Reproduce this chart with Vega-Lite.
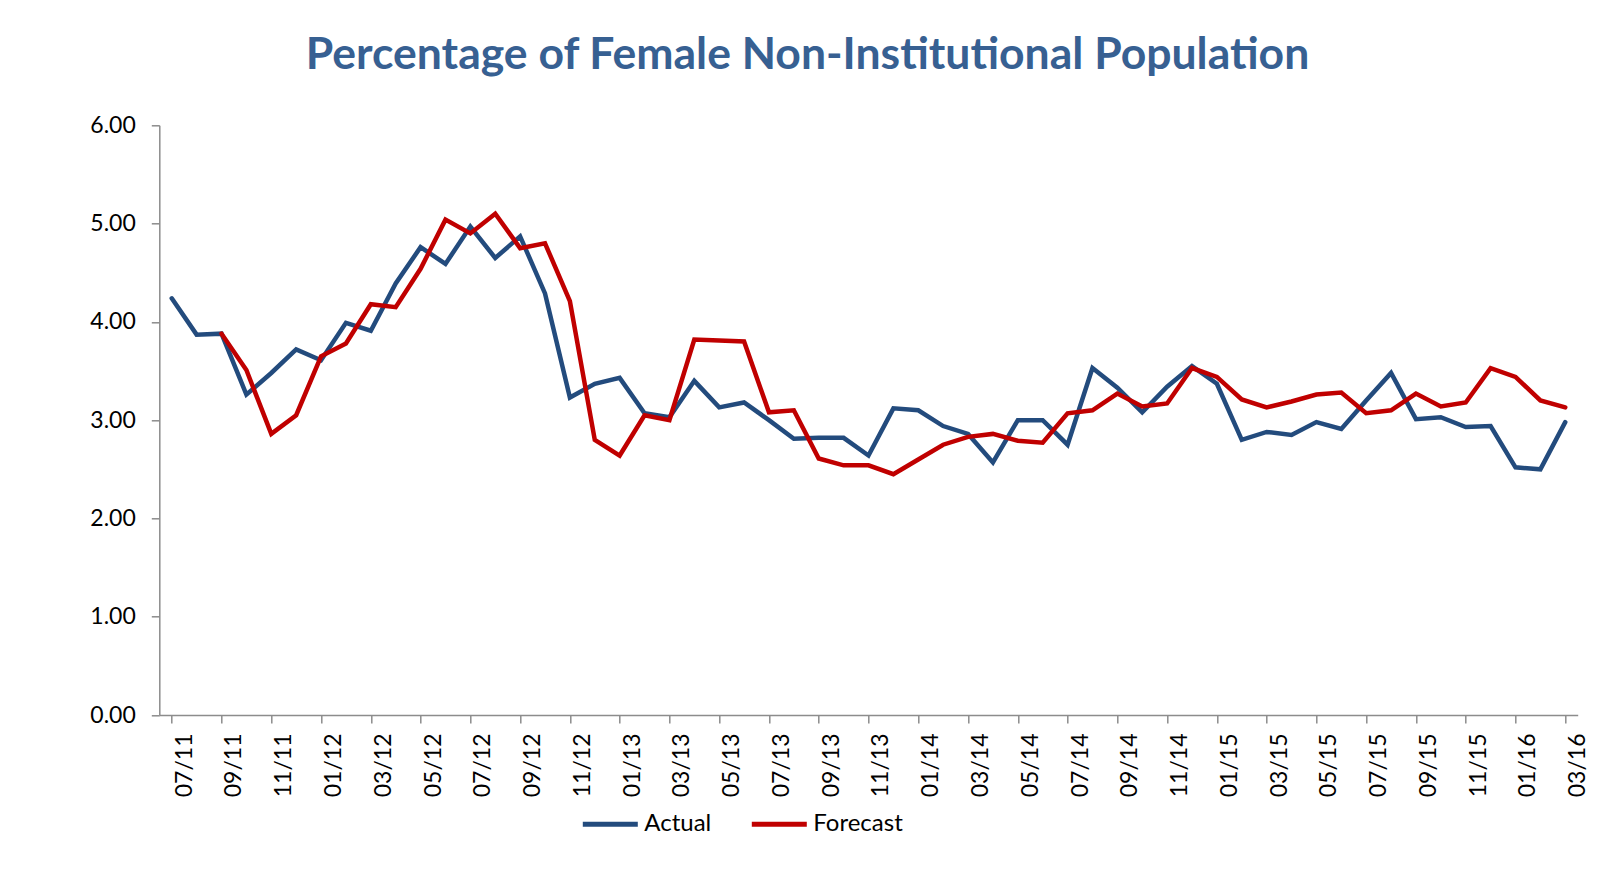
{
  "$schema": "https://vega.github.io/schema/vega-lite/v6.json",
  "autosize": "none",
  "width": 1418.4,
  "height": 589.7,
  "padding": {"left": 159.3, "top": 125.3, "right": 19.3, "bottom": 163},
  "background": "white",
  "config": {
    "view": {"stroke": null},
    "font": "Lato"
  },
  "title": {
    "text": "Percentage of Female Non-Institutional Population",
    "font": "Lato",
    "fontSize": 44.5,
    "fontWeight": "bold",
    "color": "#376092",
    "anchor": "middle",
    "frame": "group",
    "baseline": "alphabetic",
    "dx": -61,
    "offset": 1
  },
  "data": {
    "values": [
      {"month": "07/11", "Actual": 4.24, "Forecast": null},
      {"month": "08/11", "Actual": 3.87, "Forecast": null},
      {"month": "09/11", "Actual": 3.88, "Forecast": 3.88},
      {"month": "10/11", "Actual": 3.26, "Forecast": 3.51},
      {"month": "11/11", "Actual": 3.48, "Forecast": 2.86},
      {"month": "12/11", "Actual": 3.72, "Forecast": 3.05},
      {"month": "01/12", "Actual": 3.61, "Forecast": 3.65},
      {"month": "02/12", "Actual": 3.99, "Forecast": 3.78},
      {"month": "03/12", "Actual": 3.91, "Forecast": 4.18},
      {"month": "04/12", "Actual": 4.39, "Forecast": 4.15},
      {"month": "05/12", "Actual": 4.76, "Forecast": 4.54},
      {"month": "06/12", "Actual": 4.59, "Forecast": 5.04},
      {"month": "07/12", "Actual": 4.97, "Forecast": 4.90},
      {"month": "08/12", "Actual": 4.65, "Forecast": 5.10},
      {"month": "09/12", "Actual": 4.87, "Forecast": 4.75},
      {"month": "10/12", "Actual": 4.29, "Forecast": 4.80},
      {"month": "11/12", "Actual": 3.23, "Forecast": 4.21},
      {"month": "12/12", "Actual": 3.37, "Forecast": 2.80},
      {"month": "01/13", "Actual": 3.43, "Forecast": 2.64},
      {"month": "02/13", "Actual": 3.07, "Forecast": 3.05},
      {"month": "03/13", "Actual": 3.03, "Forecast": 3.00},
      {"month": "04/13", "Actual": 3.40, "Forecast": 3.82},
      {"month": "05/13", "Actual": 3.13, "Forecast": 3.81},
      {"month": "06/13", "Actual": 3.18, "Forecast": 3.80},
      {"month": "07/13", "Actual": 3.00, "Forecast": 3.08},
      {"month": "08/13", "Actual": 2.81, "Forecast": 3.10},
      {"month": "09/13", "Actual": 2.82, "Forecast": 2.61},
      {"month": "10/13", "Actual": 2.82, "Forecast": 2.54},
      {"month": "11/13", "Actual": 2.64, "Forecast": 2.54},
      {"month": "12/13", "Actual": 3.12, "Forecast": 2.45},
      {"month": "01/14", "Actual": 3.10, "Forecast": 2.60},
      {"month": "02/14", "Actual": 2.94, "Forecast": 2.75},
      {"month": "03/14", "Actual": 2.86, "Forecast": 2.83},
      {"month": "04/14", "Actual": 2.57, "Forecast": 2.86},
      {"month": "05/14", "Actual": 3.00, "Forecast": 2.79},
      {"month": "06/14", "Actual": 3.00, "Forecast": 2.77},
      {"month": "07/14", "Actual": 2.75, "Forecast": 3.07},
      {"month": "08/14", "Actual": 3.53, "Forecast": 3.10},
      {"month": "09/14", "Actual": 3.33, "Forecast": 3.27},
      {"month": "10/14", "Actual": 3.08, "Forecast": 3.14},
      {"month": "11/14", "Actual": 3.34, "Forecast": 3.17},
      {"month": "12/14", "Actual": 3.55, "Forecast": 3.53},
      {"month": "01/15", "Actual": 3.37, "Forecast": 3.44},
      {"month": "02/15", "Actual": 2.80, "Forecast": 3.21},
      {"month": "03/15", "Actual": 2.88, "Forecast": 3.13},
      {"month": "04/15", "Actual": 2.85, "Forecast": 3.19},
      {"month": "05/15", "Actual": 2.98, "Forecast": 3.26},
      {"month": "06/15", "Actual": 2.91, "Forecast": 3.28},
      {"month": "07/15", "Actual": 3.20, "Forecast": 3.07},
      {"month": "08/15", "Actual": 3.48, "Forecast": 3.10},
      {"month": "09/15", "Actual": 3.01, "Forecast": 3.27},
      {"month": "10/15", "Actual": 3.03, "Forecast": 3.14},
      {"month": "11/15", "Actual": 2.93, "Forecast": 3.18},
      {"month": "12/15", "Actual": 2.94, "Forecast": 3.53},
      {"month": "01/16", "Actual": 2.52, "Forecast": 3.44},
      {"month": "02/16", "Actual": 2.50, "Forecast": 3.20},
      {"month": "03/16", "Actual": 2.98, "Forecast": 3.13}
    ]
  },
  "transform": [
    {"fold": ["Actual", "Forecast"], "as": ["series", "value"]},
    {"filter": "datum.value != null"}
  ],
  "mark": {"type": "line", "strokeWidth": 4.5, "strokeJoin": "miter", "strokeCap": "round"},
  "encoding": {
    "x": {
      "field": "month",
      "type": "ordinal",
      "sort": null,
      "scale": {"paddingInner": 0, "paddingOuter": 0},
      "axis": {
        "title": null,
        "values": ["07/11","09/11","11/11","01/12","03/12","05/12","07/12","09/12","11/12","01/13","03/13","05/13","07/13","09/13","11/13","01/14","03/14","05/14","07/14","09/14","11/14","01/15","03/15","05/15","07/15","09/15","11/15","01/16","03/16"],
        "bandPosition": 0,
        "labelOffset": 12.44,
        "labelAngle": -90,
        "labelAlign": "right",
        "labelBaseline": "middle",
        "labelFont": "Lato",
        "labelFontSize": 23,
        "labelColor": "black",
        "labelPadding": 10,
        "tickSize": 8,
        "tickColor": "#8c8c8c",
        "tickWidth": 1.5,
        "domainColor": "#8c8c8c",
        "domainWidth": 1.5,
        "grid": false
      }
    },
    "y": {
      "field": "value",
      "type": "quantitative",
      "scale": {"domain": [0, 6], "nice": false, "zero": true},
      "axis": {
        "title": null,
        "values": [0, 1, 2, 3, 4, 5, 6],
        "format": ".2f",
        "labelFont": "Lato",
        "labelFontSize": 23,
        "labelColor": "black",
        "labelPadding": 16,
        "tickSize": 8,
        "tickColor": "#8c8c8c",
        "tickWidth": 1.5,
        "domainColor": "#8c8c8c",
        "domainWidth": 1.5,
        "grid": false
      }
    },
    "color": {
      "field": "series",
      "type": "nominal",
      "scale": {"domain": ["Actual", "Forecast"], "range": ["#234B7D", "#C00000"]},
      "legend": {
        "title": null,
        "orient": "none",
        "direction": "horizontal",
        "legendX": 421,
        "legendY": 669,
        "padding": 0,
        "symbolType": "stroke",
        "symbolSize": 3025,
        "symbolStrokeWidth": 5,
        "labelFont": "Lato",
        "labelFontSize": 24,
        "labelColor": "black",
        "labelOffset": 4,
        "columnPadding": 30
      }
    }
  }
}
